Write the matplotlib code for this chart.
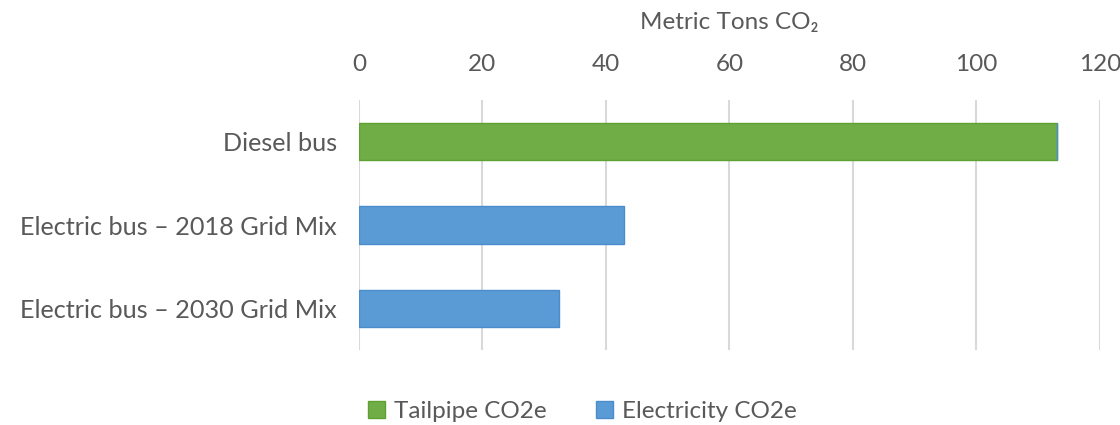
import matplotlib
matplotlib.use('Agg')
import matplotlib.pyplot as plt
import numpy as np

categories = ['Diesel bus', 'Electric bus \u2013 2018 Grid Mix', 'Electric bus \u2013 2030 Grid Mix']
tailpipe = [113.0, 0.0, 0.0]
electricity = [0.0, 43.0, 32.4]
series_names = ['Tailpipe CO2e', 'Electricity CO2e']
x_ticks = [0, 20, 40, 60, 80, 100, 120]

plt.rcParams['font.family'] = ['Lato', 'DejaVu Sans']
txt = '#595959'
fs = 17.5

fig = plt.figure(figsize=(11.2, 4.25), dpi=100, facecolor='white')
ax = fig.add_axes([0.3205, 0.176, 0.6615, 0.589])

y = np.arange(len(categories))
ax.barh(y, tailpipe, height=0.45, color='#70ad47', edgecolor='#5ea031', lw=1,
        label=series_names[0], zorder=3)
ax.barh(y, electricity, left=tailpipe, height=0.45, color='#5b9bd5',
        edgecolor='#4a8ccc', lw=1, label=series_names[1], zorder=3)

ax.set_ylim(2.5, -0.5)
ax.set_yticks(y)
ax.set_yticklabels(categories, fontsize=18.2, color=txt)

ax.set_xlim(0, 120)
ax.set_xticks(x_ticks)
ax.xaxis.tick_top()
ax.xaxis.set_label_position('top')
ax.tick_params(axis='x', labelsize=fs, colors=txt, length=0, pad=18)
ax.tick_params(axis='y', length=0, pad=16)
ax.set_xlabel('Metric Tons CO\u2082', fontsize=fs, color=txt, labelpad=18)

ax.grid(axis='x', color='#d9d9d9', lw=1.5, zorder=0)
for s in ax.spines.values():
    s.set_visible(False)

fig.legend(loc='lower center', bbox_to_anchor=(0.52, -0.045), ncol=2, frameon=False,
           fontsize=fs, labelcolor=txt, handlelength=0.7, handleheight=0.7,
           handletextpad=0.4, columnspacing=2.0)

fig.savefig('out.png', dpi=100, facecolor='white')
